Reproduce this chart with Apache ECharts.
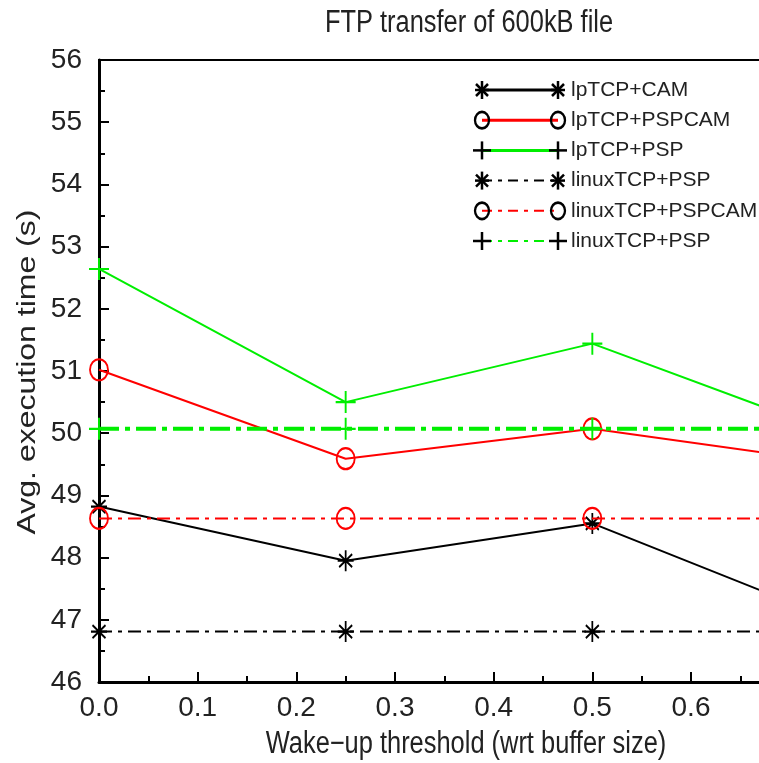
<!DOCTYPE html>
<html>
<head>
<meta charset="utf-8">
<script src="https://cdn.jsdelivr.net/npm/echarts@6/dist/echarts.min.js"></script>
<style>
  html, body { margin: 0; padding: 0; background: #fff; }
  #chart { width: 759px; height: 763px; }
</style>
</head>
<body>
<div id="chart"></div>
<script>
// Wake-up threshold values (fraction of buffer size)
const thresholds = [0, 0.25, 0.5, 0.75];

// Average execution time (s) for each protocol variant
const lpTcpCam       = [48.82, 47.95, 48.55, 46.97];
const lpTcpPspCam    = [51.02, 49.59, 50.07, 49.52];
const lpTcpPsp       = [52.64, 50.50, 51.44, 49.97];
const linuxTcpPsp    = [46.81, 46.81, 46.81, 46.81];
const linuxTcpPspCam = [48.63, 48.63, 48.63, 48.63];
const linuxTcpPsp2   = [50.07, 50.07, 50.07, 50.07];

const seriesNames = ['lpTCP+CAM', 'lpTCP+PSPCAM', 'lpTCP+PSP',
                     'linuxTCP+PSP', 'linuxTCP+PSPCAM', 'linuxTCP+PSP'];

const titleText = 'FTP transfer of 600kB file';
const xAxisName = 'Wake\u2212up threshold (wrt buffer size)';
const yAxisName = 'Avg. execution time (s)';

const yMin = 46, yMax = 56, yStep = 1;
const xMin = 0, xMax = 0.75, xStep = 0.1;

const SANS = '"Liberation Sans",Arial,sans-serif';
const NARROW_SCALE = 0.82;   // horizontally condensed lettering
const TEXT = '#222222';
const GREEN = '#00ee00';
const RED = '#ff0000';
const BLACK = '#000000';

// marker outlines
const STAR_PATH = 'M8,0L8,21M0,10.5L16,10.5M1.5,4L14.5,17M1.5,17L14.5,4';
const PLUS_PATH = 'M10,0L10,22M0,11L20,11';
const RING_PATH = 'M0,11A9.5,11 0 1,1 19,11A9.5,11 0 1,1 0,11Z';
const DASHDOT = [13, 6, 4, 6];
const DASHDOT_THICK = [20, 6, 5, 6];

const markers = {
  star:   { symbol: 'path://' + STAR_PATH, size: [16, 21] },
  plus:   { symbol: 'path://' + PLUS_PATH, size: [20, 22] },
  circle: { symbol: 'path://' + RING_PATH, size: [18, 21] }
};

function lineSeries(name, values, color, width, dash, markerKey, z) {
  const m = markers[markerKey];
  return {
    name: name,
    type: 'line',
    data: thresholds.map((x, i) => [x, values[i]]),
    symbol: m.symbol,
    symbolSize: m.size,
    showSymbol: true,
    showAllSymbol: true,
    clip: true,
    silent: true,
    z: z,
    lineStyle: { color: color, width: width, type: dash || 'solid' },
    itemStyle: {
      color: markerKey === 'circle' ? 'transparent' : color,
      borderColor: color,
      borderWidth: 2
    },
    emphasis: { disabled: true }
  };
}

const seriesStyles = [
  { data: lpTcpCam,       color: BLACK, width: 2, dash: null,          marker: 'star' },
  { data: lpTcpPspCam,    color: RED,   width: 2, dash: null,          marker: 'circle' },
  { data: lpTcpPsp,       color: GREEN, width: 2, dash: null,          marker: 'plus' },
  { data: linuxTcpPsp,    color: BLACK, width: 2, dash: DASHDOT,       marker: 'star' },
  { data: linuxTcpPspCam, color: RED,   width: 2, dash: DASHDOT,       marker: 'circle' },
  { data: linuxTcpPsp2,   color: GREEN, width: 4, dash: DASHDOT_THICK, marker: 'plus' }
];

const series = seriesStyles.map((s, i) =>
  lineSeries(seriesNames[i], s.data, s.color, s.width, s.dash, s.marker, 3 + i));

// Legend (top right of the plot): line samples with black end markers
const legendRows = [
  { lineWidth: 3, dash: null },
  { lineWidth: 3, dash: null },
  { lineWidth: 3, dash: null },
  { lineWidth: 2, dash: [10, 6, 4, 6] },
  { lineWidth: 2, dash: [10, 6, 4, 6] },
  { lineWidth: 2, dash: [10, 6, 4, 6] }
];
const LEG_X1 = 482, LEG_X2 = 558, LEG_TEXT_X = 571, LEG_Y0 = 90, LEG_DY = 30.2;

function seg(x1, y1, x2, y2) {
  return { type: 'line', shape: { x1: x1, y1: y1, x2: x2, y2: y2 },
           style: { stroke: BLACK, lineWidth: 2.5 }, z: 102 };
}

function legendMarker(kind, cx, cy) {
  if (kind === 'circle') {
    return { type: 'circle', x: cx, y: cy, scaleY: 1.18,
             shape: { cx: 0, cy: 0, r: 7 },
             style: { stroke: BLACK, lineWidth: 2.3, fill: null }, z: 102 };
  }
  if (kind === 'star') {
    return { type: 'group', x: cx, y: cy, children: [
      seg(0, -9, 0, 9), seg(-7, 0, 7, 0), seg(-6, -6, 6, 6), seg(-6, 6, 6, -6)
    ] };
  }
  return { type: 'group', x: cx, y: cy, children: [
    seg(0, -9, 0, 9), seg(-9, 0, 9, 0)
  ] };
}

const graphics = [];
seriesStyles.forEach((s, i) => {
  const y = LEG_Y0 + i * LEG_DY;
  graphics.push({
    type: 'line', shape: { x1: LEG_X1, y1: y, x2: LEG_X2, y2: y },
    style: { stroke: s.color, lineWidth: legendRows[i].lineWidth, lineDash: legendRows[i].dash || null },
    z: 101
  });
  graphics.push(legendMarker(s.marker, LEG_X1, y));
  graphics.push(legendMarker(s.marker, LEG_X2, y));
  graphics.push({
    type: 'text', x: LEG_TEXT_X, y: y,
    style: { text: seriesNames[i], fontSize: 21, fontFamily: SANS, fill: TEXT,
             verticalAlign: 'middle', align: 'left' },
    z: 102
  });
});

// Title and axis names, condensed horizontally
function condensedText(text, x, y, size, rotation) {
  const vertical = !!rotation;
  return {
    type: 'text', x: x, y: y, rotation: rotation || 0,
    scaleX: vertical ? 1 : NARROW_SCALE,
    scaleY: vertical ? NARROW_SCALE : 1,
    style: { text: text, fontSize: size, fontFamily: SANS, fill: TEXT,
             align: 'center', verticalAlign: 'middle' },
    z: 102
  };
}
graphics.push(condensedText(titleText, 469, 23, 31));
graphics.push(condensedText(xAxisName, 466, 744, 31));
graphics.push(condensedText(yAxisName, 28, 372, 32, Math.PI / 2));

const axisLine = { show: true, onZero: false, lineStyle: { color: BLACK, width: 3 } };
const tickStyle = { color: BLACK, width: 2 };

const option = {
  animation: false,
  backgroundColor: '#ffffff',
  grid: {
    left: 99, right: -80, top: 60, bottom: 81,
    outerBoundsMode: 'none',
    containLabel: false,
    show: true, borderColor: BLACK, borderWidth: 2, backgroundColor: 'transparent'
  },
  xAxis: {
    type: 'value',
    min: xMin, max: xMax, interval: xStep,
    axisLine: axisLine,
    axisTick: { show: true, inside: true, length: 10, lineStyle: tickStyle },
    minorTick: { show: true, splitNumber: 2, length: 6, lineStyle: tickStyle },
    splitLine: { show: false },
    axisLabel: { margin: 12, fontSize: 28, fontFamily: SANS, color: TEXT,
                 formatter: v => v.toFixed(1) }
  },
  yAxis: {
    type: 'value',
    min: yMin, max: yMax, interval: yStep,
    axisLine: axisLine,
    axisTick: { show: true, inside: true, length: 10, lineStyle: tickStyle },
    minorTick: { show: true, splitNumber: 2, length: 6, lineStyle: tickStyle },
    splitLine: { show: false },
    axisLabel: { margin: 17, fontSize: 28, fontFamily: SANS, color: TEXT }
  },
  series: series,
  graphic: graphics
};

const chart = echarts.init(document.getElementById('chart'), null, { renderer: 'canvas' });
chart.setOption(option);
</script>
</body>
</html>
